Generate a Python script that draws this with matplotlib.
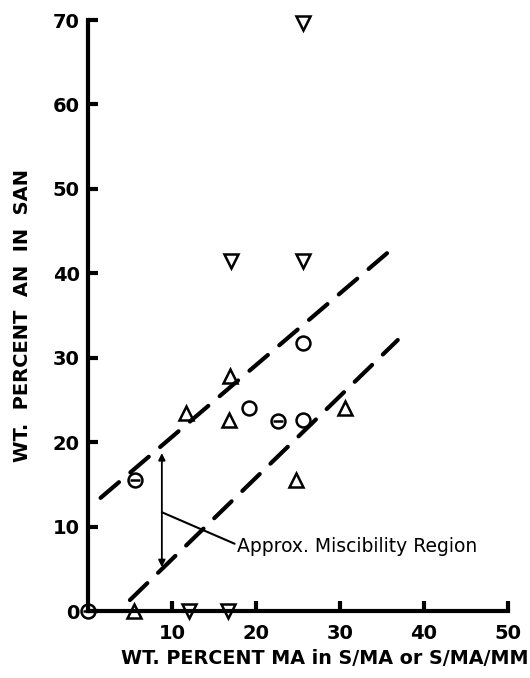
import numpy as np
import matplotlib.pyplot as plt

# S/MA and S/MA/MM blends: wt % MA in the copolymer vs wt % AN in SAN
circle_x = [19.2, 25.6, 25.6]
circle_y = [24.0, 31.8, 22.6]
theta_x = [0.0, 5.6, 22.6]
theta_y = [0.0, 15.5, 22.5]
up_x = [5.5, 11.7, 16.9, 16.8, 30.6, 24.8]
up_y = [0.0, 23.4, 27.8, 22.6, 24.1, 15.5]
down_x = [25.6, 17.0, 25.6, 12.0, 16.7]
down_y = [69.7, 41.5, 41.5, 0.0, 0.0]

# dashed bounds of the miscible band
upper_x = [1.5, 36.0]
upper_y = [13.4, 42.7]
lower_x = [5.0, 36.9]
lower_y = [1.3, 32.1]

arrow_x = 8.8
arrow_y = [18.7, 5.2]

xticks = [10, 20, 30, 40, 50]
yticks = [0, 10, 20, 30, 40, 50, 60, 70]

plt.rcParams['font.family'] = ['DejaVu Sans']

fig = plt.figure(figsize=(5.3, 6.78), dpi=100)
ax = fig.add_axes([0.166, 0.0988, 0.792, 0.8717])
ax.set_xlim(0, 50)
ax.set_ylim(0, 70)

for side in ['top', 'right']:
    ax.spines[side].set_visible(False)
for side in ['left', 'bottom']:
    ax.spines[side].set_linewidth(3)

ax.set_xticks(xticks)
ax.set_yticks(yticks)
ax.tick_params(direction='in', length=7, width=3, labelsize=14)
ax.tick_params(axis='x', pad=9)
ax.tick_params(axis='y', pad=6)
for lab in ax.get_xticklabels() + ax.get_yticklabels():
    lab.set_fontweight('bold')

# boundary lines
dash = dict(color='black', lw=3, dashes=(5.8, 3.6), dash_capstyle='round')
ax.plot(upper_x, upper_y, **dash)
ax.plot(lower_x, lower_y, **dash)

mk = dict(ls='none', mfc='none', mec='black', mew=1.8, clip_on=False, zorder=5)
ax.plot(circle_x, circle_y, marker='o', ms=10, **mk)
ax.plot(theta_x, theta_y, marker='o', ms=10, **mk)
ax.plot(theta_x, theta_y, marker='_', ms=7, **mk)
ax.plot(up_x, up_y, marker='^', ms=9.5, **mk)
ax.plot(down_x, down_y, marker='v', ms=9.5, **mk)

# double arrow marking the band width
ax.annotate('', xy=(arrow_x, arrow_y[0]), xytext=(arrow_x, arrow_y[1]),
            arrowprops=dict(arrowstyle='<|-|>', color='black', lw=1.3,
                            mutation_scale=10, shrinkA=0, shrinkB=0))
ax.annotate('Approx. Miscibility Region', xy=(arrow_x, 11.7), xytext=(17.8, 7.6),
            fontsize=13.5, va='center', ha='left',
            arrowprops=dict(arrowstyle='-', color='black', lw=1.5,
                            relpos=(0, 0.6), shrinkA=0, shrinkB=0))

ax.set_xlabel('WT. PERCENT MA in S/MA or S/MA/MM', fontsize=13.8,
              fontweight='bold', va='center')
ax.xaxis.set_label_coords(0.564, -0.08)
ax.set_ylabel('WT.  PERCENT  AN  IN  SAN', fontsize=14, fontweight='bold',
              labelpad=15)

fig.savefig('out.png', dpi=100)
